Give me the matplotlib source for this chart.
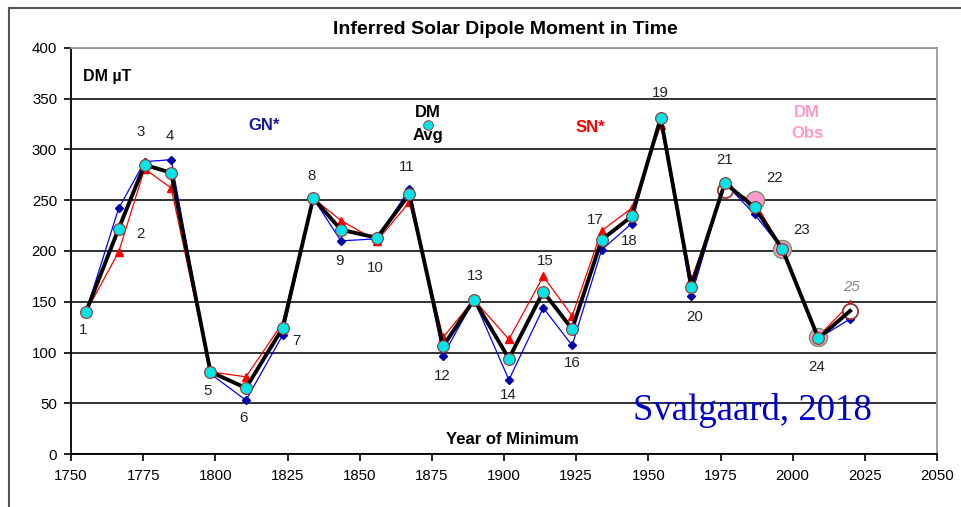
import numpy as np
import matplotlib
matplotlib.use("Agg")
import matplotlib.pyplot as plt
from matplotlib.lines import Line2D

plt.rcParams["font.family"] = ["Liberation Sans", "DejaVu Sans"]

# solar cycle minima
cycles = list(range(1, 26))
years = [1755.2, 1766.5, 1775.5, 1784.7, 1798.3, 1810.6, 1823.3, 1833.9, 1843.5,
         1856.0, 1867.2, 1878.9, 1889.6, 1901.7, 1913.6, 1923.6, 1933.8, 1944.2,
         1954.3, 1964.9, 1976.5, 1986.8, 1996.4, 2008.9, 2019.9]
dm_avg = [140, 222, 285, 277, 81, 65, 124, 252, 221, 213, 256, 106, 152, 94,
          160, 123, 211, 234, 331, 165, 267, 243, 202, 114, 141]
gn_star = [140, 242, 288, 290, 79, 53, 117, 252, 210, 212, 261, 97, 152, 73,
           144, 107, 201, 227, 333, 156, 267, 236, 202, 114, 133]
sn_star = [140, 199, 281, 262, 81, 76, 129, 252, 230, 210, 248, 115, 152, 113,
           175, 136, 220, 242, 324, 172, 262, 249, 202, 116, 148]
obs_years = [1986.8, 1996.4, 2008.9]
obs_vals = [250, 202, 115]
open_years = [1976.5, 2019.9]
open_vals = [260, 141]

# label offsets (pixels) for cycle numbers
lbl_off = [(-3, -18), (22, -5), (-4, 33), (-1, 37), (-3, -19), (-2, -30), (14, -13),
           (-2, 22), (-1, -31), (-2, -30), (-3, 27), (-1, -30), (1, 24), (-1, -36),
           (2, 31), (0, -34), (-6, 20), (-2, -25), (0, 25), (3, -30), (0, 23),
           (20, 29), (19, 19), (-2, -29), (1, 24)]

fig = plt.figure(figsize=(9.61, 5.07), dpi=100)
ax = fig.add_axes([71 / 961, 53 / 507, 866 / 961, 406 / 507])

# outer frame
fig.add_artist(Line2D([9 / 961, 1.0], [1 - 8 / 507, 1 - 8 / 507], color="#555555", lw=1.5))
fig.add_artist(Line2D([9 / 961, 9 / 961], [0, 1 - 8 / 507], color="#555555", lw=1.5))

ax.set_xlim(1750, 2050)
ax.set_ylim(0, 400)
ax.set_xticks(np.arange(1750, 2051, 25))
ax.set_yticks(np.arange(0, 401, 50))
ax.yaxis.grid(True, color="#222222", lw=1.3)
ax.set_axisbelow(True)
ax.tick_params(axis="both", direction="out", length=5, width=1.2, labelsize=10.8,
               colors="black")
ax.tick_params(axis="y", pad=5)
ax.tick_params(axis="x", pad=6)
for s in ["left", "bottom"]:
    ax.spines[s].set_color("black")
    ax.spines[s].set_linewidth(1.3)
for s in ["right", "top"]:
    ax.spines[s].set_color("#999999")
    ax.spines[s].set_linewidth(1.3)

ax.plot(years, gn_star, color="blue", lw=0.9, marker="D", ms=4.5,
        mfc="#0000aa", mec="#0000aa", zorder=3)
ax.plot(years, sn_star, color="red", lw=0.9, marker="^", ms=6,
        mfc="red", mec="red", zorder=3)
ax.plot(obs_years, obs_vals, ls="none", marker="o", ms=13, mfc="#ff99cc",
        mec="#669966", mew=1, zorder=4)
ax.plot(open_years, open_vals, ls="none", marker="o", ms=11, mfc="white",
        mec="#993333", mew=1.3, zorder=4)
ax.plot(years, dm_avg, color="black", lw=2.8, zorder=5)
ax.plot(years[:-1], dm_avg[:-1], ls="none", marker="o", ms=8.5, mfc="#00e5e5",
        mec="#993333", mew=0.8, zorder=6)

for c, x, y, (dx, dy) in zip(cycles, years, dm_avg, lbl_off):
    if c == 25:
        ax.annotate(str(c), (x, y), xytext=(dx, dy), textcoords="offset pixels",
                    ha="center", va="center", fontsize=10.8, color="#888888",
                    style="italic")
    else:
        ax.annotate(str(c), (x, y), xytext=(dx, dy), textcoords="offset pixels",
                    ha="center", va="center", fontsize=10.8, color="#222222")

ax.text(1754, 372, "DM µT", fontsize=11.5, fontweight="bold", ha="left", va="center")
ax.text(1817, 324, "GN*", fontsize=12, fontweight="bold", color="#1a1a99",
        ha="center", va="center")
ax.text(1873.7, 336, "DM", fontsize=12, fontweight="bold", ha="center", va="center")
ax.text(1873.7, 314, "Avg", fontsize=12, fontweight="bold", ha="center", va="center")
ax.plot([1873.7], [324], ls="none", marker="o", ms=7, mfc="#00e5e5",
        mec="#993333", mew=0.6, zorder=6)
ax.text(1930, 322, "SN*", fontsize=12, fontweight="bold", color="red",
        ha="center", va="center")
ax.text(2005, 336, "DM", fontsize=12, fontweight="bold", color="#ff99cc",
        ha="center", va="center")
ax.text(2005, 316, "Obs", fontsize=12, fontweight="bold", color="#ff99cc",
        ha="center", va="center")
ax.text(1903, 14, "Year of Minimum", fontsize=12, fontweight="bold",
        ha="center", va="center")
ax.text(1986.2, 43, "Svalgaard, 2018", fontsize=26.5, color="#0000cc",
        family=["Liberation Serif", "DejaVu Serif"], ha="center", va="center")

fig.text(505 / 961, 1 - 30 / 507, "Inferred Solar Dipole Moment in Time",
         fontsize=14, fontweight="bold", ha="center", va="center")

fig.savefig("out.png", dpi=100)
